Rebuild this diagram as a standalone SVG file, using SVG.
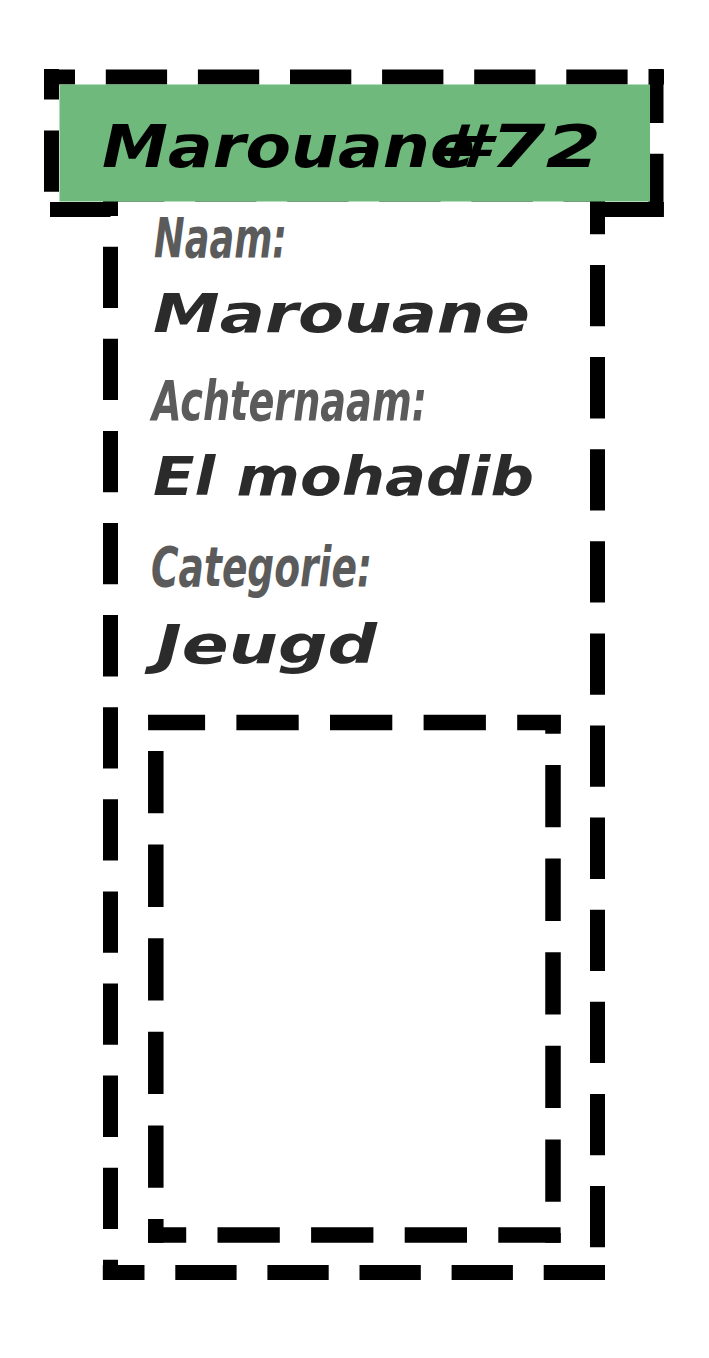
<svg xmlns="http://www.w3.org/2000/svg" width="709" height="1358" viewBox="0 0 709 1358">
  <style>
    .frame { fill: none; stroke: #000; stroke-width: 15; stroke-dasharray: 61.3 30.8; stroke-linecap: butt; }
    .photo-line { fill: none; stroke: #000; stroke-width: 15.5; stroke-dasharray: 62.3 31.3; stroke-linecap: butt; }
    .title { font-family: "DejaVu Sans", "Liberation Sans", sans-serif; font-weight: bold; font-style: oblique; font-size: 58px; fill: #000; }
    .label { font-family: "DejaVu Sans Condensed", "DejaVu Sans", sans-serif; font-stretch: condensed; font-weight: bold; font-style: oblique; font-size: 55px; fill: #5b5b5b; }
    .value { font-family: "DejaVu Sans", "Liberation Sans", sans-serif; font-weight: bold; font-style: oblique; font-size: 53.5px; fill: #2b2b2b; }
  </style>
  <rect width="709" height="1358" fill="#fff"/>

  <g id="title-frame">
    <line class="frame" x1="44" y1="77" x2="664" y2="77" stroke-dashoffset="30.3"/>
    <line class="frame" x1="51.5" y1="217" x2="51.5" y2="69" stroke-dashoffset="66.8"/>
    <line class="frame" x1="656" y1="69" x2="656" y2="217" stroke-dashoffset="7.3"/>
    <line class="frame" x1="50" y1="209.5" x2="664" y2="209.5"/>
  </g>

  <g id="card">
    <rect x="110.5" y="194" width="487" height="1078.5" fill="#fff"/>
    <line class="frame" x1="103" y1="194" x2="605" y2="194"/>
    <line class="frame" x1="110.5" y1="186.5" x2="110.5" y2="1280" stroke-dashoffset="31.9"/>
    <line class="frame" x1="597.5" y1="186.5" x2="597.5" y2="1280" stroke-dashoffset="13.6"/>
    <line class="frame" x1="605" y1="1272.5" x2="102.8" y2="1272.5"/>

    <g id="field-naam">
      <text class="label" x="154" y="256.7" textLength="133" lengthAdjust="spacingAndGlyphs">Naam:</text>
      <text class="value" x="153" y="331.7" textLength="377" lengthAdjust="spacingAndGlyphs">Marouane</text>
    </g>
    <g id="field-achternaam">
      <text class="label" x="152" y="420" textLength="275" lengthAdjust="spacingAndGlyphs">Achternaam:</text>
      <text class="value" x="153" y="495" textLength="381" lengthAdjust="spacingAndGlyphs">El mohadib</text>
    </g>
    <g id="field-categorie">
      <text class="label" x="151" y="586" textLength="221" lengthAdjust="spacingAndGlyphs">Categorie:</text>
      <text class="value" x="156" y="663" textLength="221" lengthAdjust="spacingAndGlyphs">Jeugd</text>
    </g>

    <g id="photo">
      <line class="photo-line" x1="148.1" y1="722.5" x2="560.6" y2="722.5" stroke-dashoffset="5.3"/>
      <line class="photo-line" x1="155.8" y1="715" x2="155.8" y2="1242.7" stroke-dashoffset="57.6"/>
      <line class="photo-line" x1="553" y1="715" x2="553" y2="1242.7" stroke-dashoffset="43.6"/>
      <line class="photo-line" x1="560.6" y1="1235" x2="148.1" y2="1235"/>
    </g>
  </g>

  <g id="title">
    <rect x="59.5" y="84.5" width="590.5" height="117" fill="#70b97d"/>
    <text class="title" x="102" y="167.3"><tspan textLength="373" lengthAdjust="spacingAndGlyphs">Marouane</tspan><tspan x="435" textLength="166" lengthAdjust="spacingAndGlyphs">#72</tspan></text>
  </g>

  <g id="connectors"/>
</svg>
